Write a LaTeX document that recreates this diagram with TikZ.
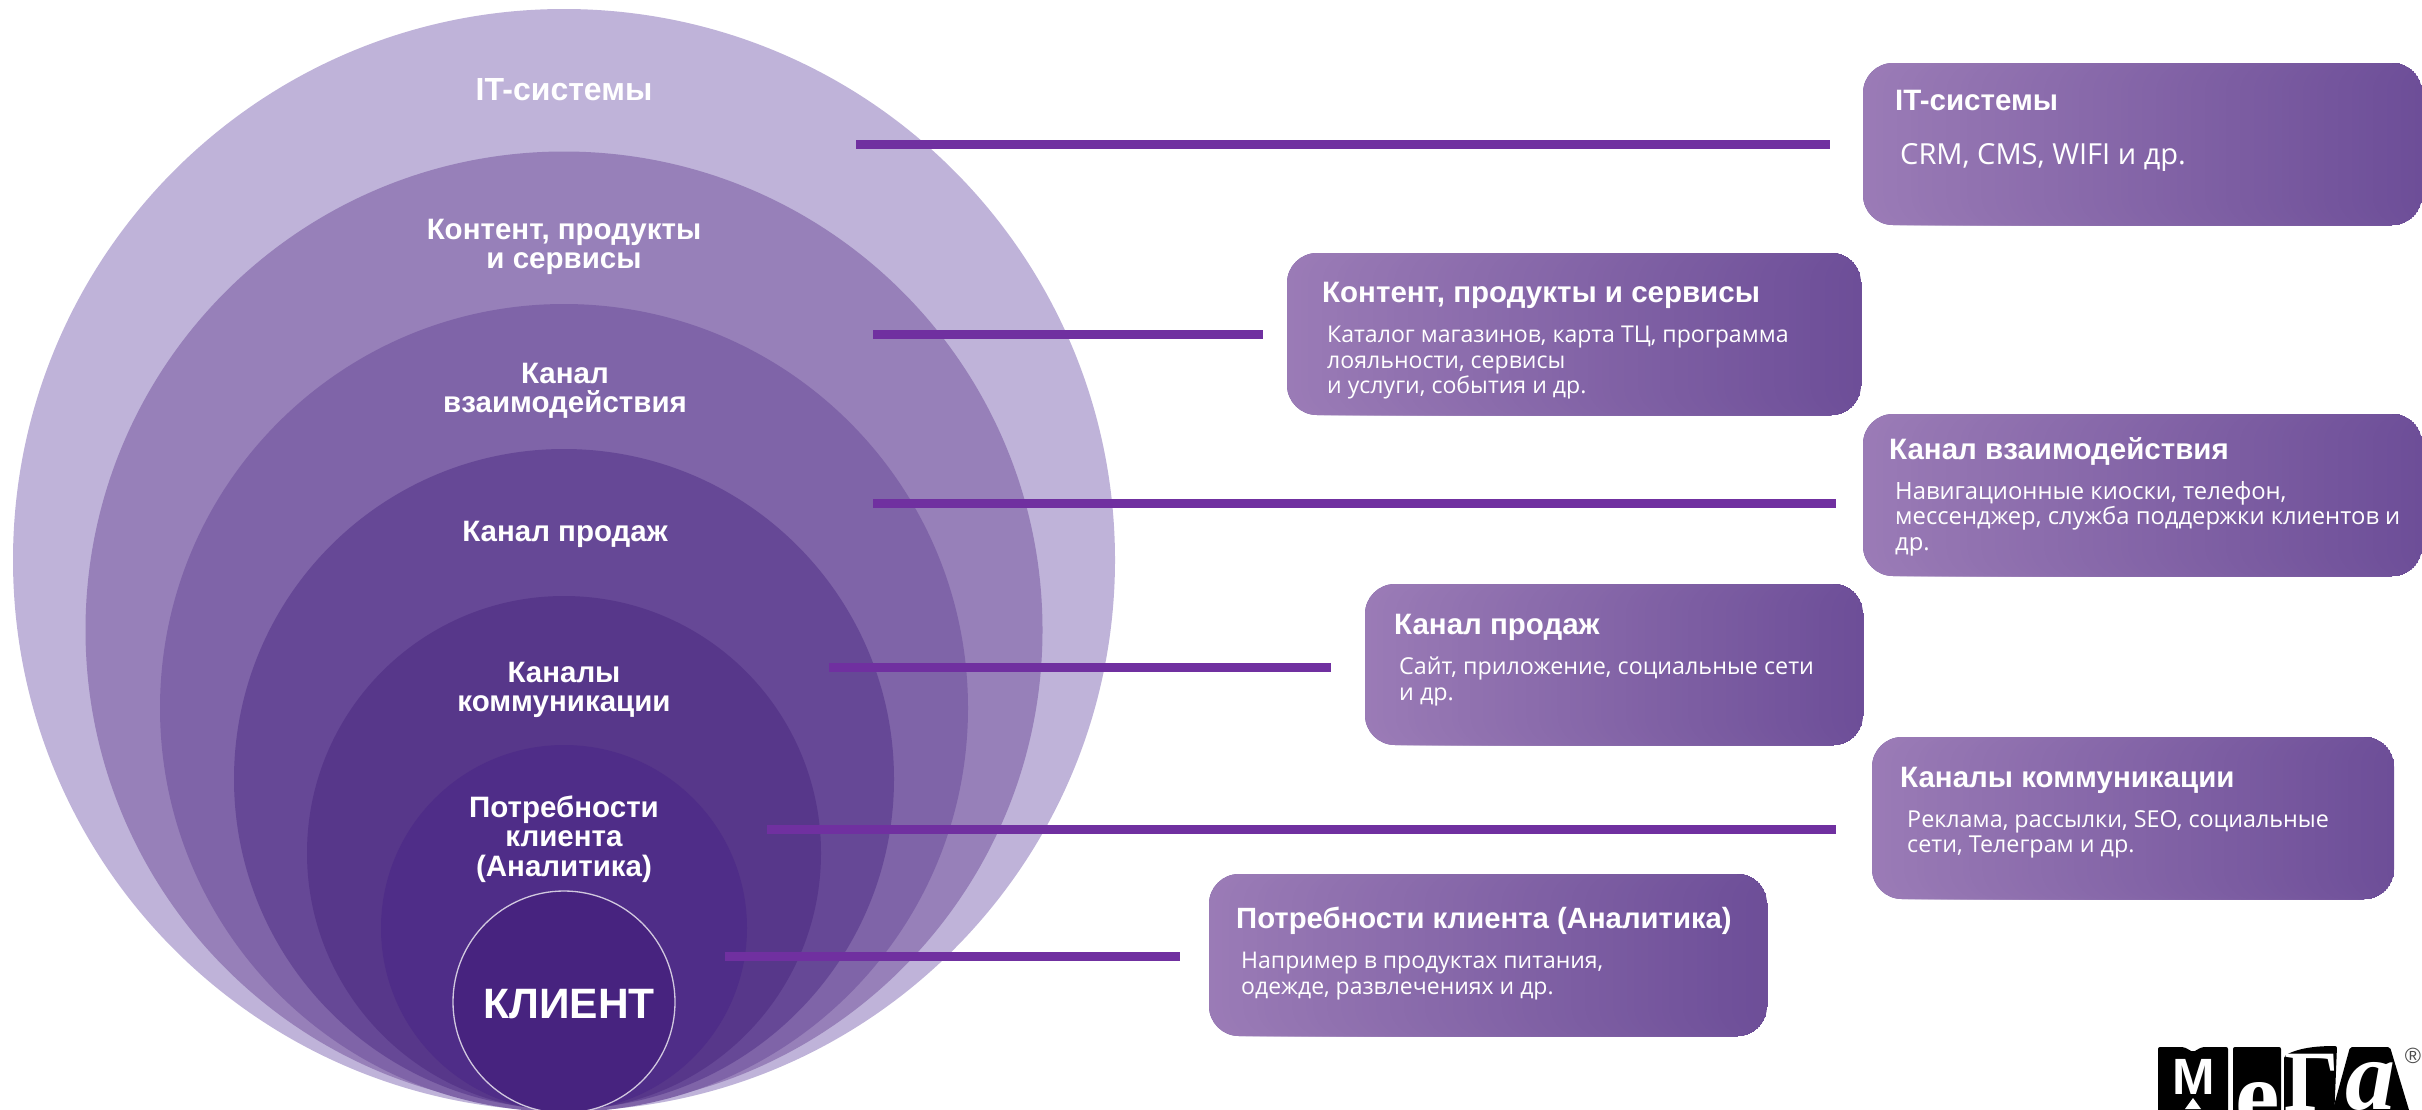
\documentclass[tikz,border=0pt]{standalone}
\usepackage{fontspec}
\setmainfont{Liberation Sans}
\newfontfamily\bodyfont{Open Sans}
\newfontfamily\logofont{Liberation Serif}
\definecolor{cA}{HTML}{BFB3D9}
\definecolor{cB}{HTML}{9780B9}
\definecolor{cC}{HTML}{7F64A8}
\definecolor{cD}{HTML}{664896}
\definecolor{cE}{HTML}{57378A}
\definecolor{cF}{HTML}{4F2D88}
\definecolor{cG}{HTML}{47237F}
\definecolor{lineC}{HTML}{7030A0}
\definecolor{boxL}{HTML}{9A7BB6}
\definecolor{boxR}{HTML}{6D4E98}
\tikzset{
 x=1pt,y=-1pt,
 ring/.style={circle,inner sep=0pt,outer sep=0pt},
 ringtext/.style={text=white,align=center,font=\fontsize{29.5}{29.5}\selectfont\bfseries,inner sep=0pt},
 card/.style={rounded corners=30pt,fill=boxR,inner sep=0pt,outer sep=0pt,anchor=north west},
 cardtitle/.style={text=white,anchor=base west,font=\fontsize{29.5}{32}\selectfont\bfseries,inner sep=0pt},
 cardbody/.style={text=white,anchor=north west,align=left,font=\bodyfont\fontsize{#1}{25.5}\selectfont,inner sep=0pt},
 link/.style={draw=lineC,line width=9pt},
 logotext/.style={text=white,inner sep=0pt,anchor=base},
}
\newcommand{\cardbox}[5]{% name x y w h
 \node[card,minimum width=#4pt,minimum height=#5pt,
   path picture={\foreach \k in {0,...,79}{%
     \pgfmathsetmacro\xs{\k/80*#4}\pgfmathsetmacro\pc{\k/79*100}%
     \fill[boxR!\pc!boxL] ([xshift=\xs pt]path picture bounding box.north west) rectangle (path picture bounding box.south east);}}]
   (#1) at (#2,#3) {};
}
\begin{document}
\begin{tikzpicture}
\useasboundingbox (0,0) rectangle (2422,1109);
% concentric rings
\node[ring,fill=cA,minimum size=1102pt] (r1) at (564,560) {};
\node[ring,fill=cB,minimum size=957pt] (r2) at (564,630) {};
\node[ring,fill=cC,minimum size=808pt] (r3) at (564,708) {};
\node[ring,fill=cD,minimum size=660pt] (r4) at (564,779) {};
\node[ring,fill=cE,minimum size=514pt] (r5) at (564,853) {};
\node[ring,fill=cF,minimum size=366pt] (r6) at (564,928) {};
\node[ring,fill=cG,draw=white!75!cG,line width=1.3pt,minimum size=222pt] (r7) at (564,1002) {};
% ring labels
\node[ringtext,font=\fontsize{32}{32}\selectfont\bfseries] (t1) at (564,90) {IT-системы};
\node[ringtext] (t2) at (564,247) {Контент, продукты\\и сервисы};
\node[ringtext] (t3) at (565,391) {Канал\\взаимодействия};
\node[ringtext] (t4) at (565,534) {Канал продаж};
\node[ringtext] (t5) at (564,690) {Каналы\\коммуникации};
\node[ringtext] (t6) at (564,839) {Потребности\\клиента\\(Аналитика)};
\node[text=white,font=\fontsize{42.5}{45}\selectfont\bfseries,inner sep=0pt] (t7) at (569,1004) {КЛИЕНТ};
% cards
\cardbox{c1}{1863}{63}{559}{162}
\cardbox{c2}{1287}{253}{574}{162}
\cardbox{c3}{1863}{414}{559}{162}
\cardbox{c4}{1365}{584}{498}{161}
\cardbox{c5}{1872}{737}{522}{162}
\cardbox{c6}{1209}{874}{558}{162}
% card text
\node[cardtitle] (h1) at (1895,110) {IT-системы};
\node[cardbody=29] (b1) at (1900,143) {CRM, CMS, WIFI и др.};
\node[cardtitle] (h2) at (1322,302) {Контент, продукты и сервисы};
\node[cardbody=23.1] (b2) at (1327,326) {Каталог магазинов, карта ТЦ, программа\\лояльности, сервисы\\и услуги, события и др.};
\node[cardtitle] (h3) at (1889,459) {Канал взаимодействия};
\node[cardbody=23.8] (b3) at (1895,481) {Навигационные киоски, телефон,\\мессенджер, служба поддержки клиентов и\\др.};
\node[cardtitle] (h4) at (1394,634) {Канал продаж};
\node[cardbody=23.3] (b4) at (1399,657) {Сайт, приложение, социальные сети\\и др.};
\node[cardtitle] (h5) at (1900,787) {Каналы коммуникации};
\node[cardbody=23.3] (b5) at (1907,810) {Реклама, рассылки, SEO, социальные\\сети, Телеграм и др.};
\node[cardtitle,font=\fontsize{29.3}{32}\selectfont\bfseries] (h6) at (1236,928) {Потребности клиента (Аналитика)};
\node[cardbody=23] (b6) at (1241,952) {Например в продуктах питания,\\одежде, развлечениях и др.};
% connectors
\coordinate (a1) at (856,144); \coordinate (e1) at (1830,144);
\coordinate (a2) at (873,334); \coordinate (e2) at (1263,334);
\coordinate (a3) at (873,503); \coordinate (e3) at (1836,503);
\coordinate (a4) at (829,667); \coordinate (e4) at (1331,667);
\coordinate (a5) at (767,829); \coordinate (e5) at (1836,829);
\coordinate (a6) at (725,956); \coordinate (e6) at (1180,956);
\foreach \i in {1,...,6} \draw[link] (a\i) -- (e\i);
% logo (cropped by the page edge)
\begin{scope}
\clip (2150,1040) rectangle (2422,1109);
\fill[black,rounded corners=2pt] (2158,1047) -- (2184,1047) -- (2193,1052) -- (2202,1047) -- (2228,1047) -- (2228,1120) -- (2158,1120) -- cycle;
\fill[black,rounded corners=2pt] (2233,1047) -- (2281,1047) -- (2281,1120) -- (2233,1120) -- cycle;
\fill[black,rounded corners=2pt] (2284,1056) .. controls (2300,1047) and (2320,1046) .. (2337,1046) -- (2334,1120) -- (2284,1120) -- cycle;
\fill[black,rounded corners=2pt] (2350,1047) -- (2390,1047) -- (2412,1120) -- (2330,1120) -- cycle;
\node[logotext,font=\fontsize{51}{51}\selectfont\bfseries] (l1) at (2194,1094) {M};
\fill[white] (2185,1109) -- (2193,1098) -- (2201,1109) -- cycle;
\node[logotext,font=\logofont\fontsize{100}{100}\selectfont\bfseries] (l2) at (2258,1129) {e};
\node[logotext,font=\logofont\fontsize{86}{86}\selectfont\bfseries] (l3) at (2312,1110) {Г};
\node[logotext,font=\logofont\fontsize{100}{100}\selectfont\bfseries\itshape] (l4) at (2370,1109) {a};
\end{scope}
\node[text=black!70,font=\fontsize{22}{22}\selectfont,inner sep=0pt] (l5) at (2413,1056) {®};
\end{tikzpicture}
\end{document}
